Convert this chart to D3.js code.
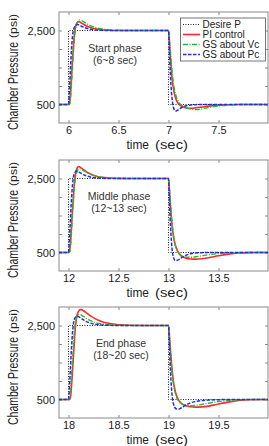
<!DOCTYPE html>
<html>
<head>
<meta charset="utf-8">
<script src="https://cdn.jsdelivr.net/npm/d3@7"></script>
<style>
  body { margin: 0; background: #fff; }
  svg { display: block; }
</style>
</head>
<body>
<script>
// phases (one panel each)
var phaseStart = [6, 12, 18];
var phaseName = ["Start phase", "Middle phase", "End phase"];
var phaseRange = ["(6~8 sec)", "(12~13 sec)", "(18~20 sec)"];
var xTicks = [[6, 6.5, 7, 7.5], [12, 12.5, 13, 13.5], [18, 18.5, 19, 19.5]];
var yTicks = [500, 1000, 1500, 2000, 2500];
var yTickLabels = {500: "500", 2500: "2,500"};
var seriesNames = ["Desire P", "PI control", "GS about Vc", "GS about Pc"];

// desired pressure (step), time relative to phase start
var desireT = [-0.1, 0, 1, 2.1];
var desireP = [500, 2500, 500, 500];

// sample times relative to phase start (sec)
var relT = [-0.1, 0, 0.01, 0.02, 0.03, 0.04, 0.05, 0.06, 0.07, 0.08, 0.09, 0.1, 0.11, 0.12, 0.13, 0.15, 0.18, 0.22, 0.27, 0.33, 0.4, 0.5, 0.6, 0.8,
            1.0, 1.01, 1.02, 1.03, 1.04, 1.05, 1.06, 1.07, 1.08, 1.1, 1.12, 1.15, 1.18, 1.22, 1.27, 1.33, 1.4, 1.5, 1.6, 1.7, 1.8, 2.0];

// start phase
var piStart = [500, 500, 520, 800, 1250, 1700, 2100, 2420, 2600, 2680, 2720, 2740, 2735, 2720, 2700, 2670, 2620, 2580, 2545, 2520, 2505, 2500, 2500, 2500,
               2500, 2150, 1750, 1400, 1120, 920, 780, 680, 610, 520, 470, 430, 405, 400, 410, 430, 455, 480, 495, 500, 500, 500];
var vcStart = [500, 500, 500, 650, 1050, 1500, 1950, 2300, 2550, 2660, 2720, 2760, 2780, 2780, 2770, 2740, 2690, 2630, 2580, 2545, 2520, 2505, 2500, 2500,
               2500, 2250, 1900, 1560, 1280, 1060, 900, 780, 690, 580, 500, 440, 400, 375, 365, 380, 420, 460, 485, 497, 500, 500];
var pcStart = [500, 500, 950, 1500, 2000, 2350, 2520, 2590, 2630, 2650, 2660, 2655, 2645, 2630, 2615, 2590, 2560, 2535, 2515, 2505, 2500, 2500, 2500, 2500,
               2500, 1850, 1250, 820, 560, 420, 350, 325, 330, 360, 400, 440, 465, 485, 495, 500, 500, 500, 500, 500, 500, 500];

// middle phase
var piMiddle = [500, 500, 520, 780, 1200, 1650, 2050, 2400, 2620, 2740, 2800, 2820, 2815, 2800, 2780, 2740, 2680, 2620, 2570, 2535, 2515, 2503, 2500, 2500,
                2500, 2150, 1750, 1400, 1130, 930, 790, 690, 610, 500, 430, 370, 340, 325, 320, 330, 360, 410, 455, 485, 497, 500];
var vcMiddle = [500, 500, 500, 650, 1050, 1500, 1930, 2280, 2520, 2650, 2720, 2750, 2760, 2755, 2745, 2715, 2670, 2610, 2565, 2535, 2515, 2503, 2500, 2500,
                2500, 2200, 1820, 1470, 1180, 960, 800, 680, 600, 490, 430, 385, 370, 370, 385, 410, 440, 470, 490, 498, 500, 500];
var pcMiddle = [500, 500, 900, 1450, 1950, 2330, 2550, 2640, 2685, 2700, 2695, 2680, 2665, 2650, 2635, 2605, 2570, 2540, 2520, 2508, 2502, 2500, 2500, 2500,
                2500, 1800, 1200, 780, 500, 360, 300, 280, 285, 300, 340, 390, 430, 465, 485, 495, 500, 500, 500, 500, 500, 500];

// end phase
var piEnd = [500, 500, 500, 560, 850, 1250, 1700, 2130, 2480, 2700, 2820, 2880, 2915, 2930, 2930, 2900, 2840, 2760, 2680, 2610, 2560, 2520, 2505, 2500,
             2500, 2200, 1820, 1480, 1200, 980, 820, 700, 610, 490, 420, 360, 325, 305, 295, 300, 320, 380, 430, 475, 495, 500];
var vcEnd = [500, 500, 500, 700, 1100, 1550, 1980, 2330, 2580, 2710, 2770, 2795, 2800, 2795, 2780, 2745, 2690, 2630, 2580, 2545, 2520, 2505, 2500, 2500,
             2500, 2150, 1750, 1400, 1120, 910, 760, 650, 570, 460, 400, 355, 335, 330, 340, 365, 400, 445, 475, 492, 499, 500];
var pcEnd = [500, 500, 850, 1400, 1900, 2300, 2560, 2680, 2730, 2750, 2750, 2740, 2725, 2705, 2685, 2650, 2605, 2565, 2535, 2515, 2505, 2500, 2500, 2500,
             2500, 1850, 1250, 800, 520, 380, 300, 260, 245, 240, 260, 310, 360, 410, 445, 470, 485, 495, 500, 500, 500, 500];

var responses = [
    [piStart, vcStart, pcStart],
    [piMiddle, vcMiddle, pcMiddle],
    [piEnd, vcEnd, pcEnd]
];

var width = 269, height = 446;
var panelTop = [12, 160, 307];
var panelH = 111;
var plotLeft = 59, plotRight = 268;
var labelX = [115, 119, 121];

var styles = [
    {color: "#222", width: 1, dash: "1,1.5"},
    {color: "#ff2a2a", width: 1.6, dash: null},
    {color: "#1fbf2a", width: 1.4, dash: "5,1.5,1,1.5"},
    {color: "#2430e0", width: 1.5, dash: "3.5,1.5"}
];

var svg = d3.select("body").append("svg")
    .attr("width", width)
    .attr("height", height)
    .style("font-family", "'Liberation Sans', Arial, sans-serif");

phaseStart.forEach(function (t0, p) {
    var top = panelTop[p], bottom = top + panelH;

    var x = d3.scaleLinear()
        .domain([t0 - 0.095, t0 + 1.995])
        .range([plotLeft, plotRight]);
    var y = d3.scaleLinear()
        .domain([0, 3000])
        .range([bottom, top]);

    var g = svg.append("g").attr("class", "panel");

    g.append("clipPath").attr("id", "clip" + p)
        .append("rect")
        .attr("x", plotLeft).attr("y", top)
        .attr("width", plotRight - plotLeft).attr("height", panelH);

    g.append("rect")
        .attr("x", plotLeft).attr("y", top)
        .attr("width", plotRight - plotLeft).attr("height", panelH)
        .attr("fill", "#fff");

    // axes, ticks pointing inward
    var xb = g.append("g").attr("transform", "translate(0," + bottom + ")")
        .call(d3.axisBottom(x).tickValues(xTicks[p]).tickSizeInner(-3).tickSizeOuter(0).tickPadding(3.5)
            .tickFormat(d3.format("")));
    var xt = g.append("g").attr("transform", "translate(0," + top + ")")
        .call(d3.axisTop(x).tickValues(xTicks[p]).tickSizeInner(-3).tickSizeOuter(0).tickFormat(""));
    var yl = g.append("g").attr("transform", "translate(" + plotLeft + ",0)")
        .call(d3.axisLeft(y).tickValues(yTicks).tickSizeInner(-3).tickSizeOuter(0).tickPadding(4)
            .tickFormat(function (d) { return yTickLabels[d] || ""; }));
    var yr = g.append("g").attr("transform", "translate(" + plotRight + ",0)")
        .call(d3.axisRight(y).tickValues(yTicks).tickSizeInner(-3).tickSizeOuter(0).tickFormat(""));

    [xb, xt, yl, yr].forEach(function (a) {
        a.select(".domain").remove();
        a.selectAll(".tick line").attr("stroke", "#888");
        a.selectAll("text").attr("font-size", 11).attr("fill", "#222")
            .attr("font-family", "'Liberation Sans', Arial, sans-serif");
    });

    g.append("rect")
        .attr("x", plotLeft).attr("y", top)
        .attr("width", plotRight - plotLeft).attr("height", panelH)
        .attr("fill", "none").attr("stroke", "#8a8a8a").attr("stroke-width", 1);

    // curves
    var lines = g.append("g").attr("clip-path", "url(#clip" + p + ")");

    var stepLine = d3.line()
        .x(function (d) { return x(t0 + d[0]); })
        .y(function (d) { return y(d[1]); })
        .curve(d3.curveStepAfter);
    lines.append("path")
        .datum(desireT.map(function (t, i) { return [t, desireP[i]]; }))
        .attr("d", stepLine)
        .attr("fill", "none")
        .attr("stroke", styles[0].color)
        .attr("stroke-width", styles[0].width)
        .attr("stroke-dasharray", styles[0].dash);

    var curve = d3.line()
        .x(function (d) { return x(t0 + d[0]); })
        .y(function (d) { return y(d[1]); })
        .curve(d3.curveMonotoneX);

    responses[p].forEach(function (vals, s) {
        var st = styles[s + 1];
        lines.append("path")
            .datum(relT.map(function (t, i) { return [t, vals[i]]; }))
            .attr("d", curve)
            .attr("fill", "none")
            .attr("stroke", st.color)
            .attr("stroke-width", st.width)
            .attr("stroke-dasharray", st.dash);
    });

    // phase label
    g.append("text")
        .attr("x", labelX[p]).attr("y", top + 39.5)
        .attr("text-anchor", "middle")
        .attr("font-size", 10.5).attr("fill", "#333")
        .text(phaseName[p]);
    g.append("text")
        .attr("x", labelX[p]).attr("y", top + 51.5)
        .attr("text-anchor", "middle")
        .attr("font-size", 10.5).attr("fill", "#333")
        .text(phaseRange[p]);

    // axis titles
    g.append("text")
        .attr("x", 126.5).attr("y", bottom + 25.5)
        .attr("font-family", "'Liberation Sans Narrow', 'Liberation Sans', sans-serif")
        .attr("font-size", 12).attr("fill", "#222")
        .attr("textLength", 22.5).attr("lengthAdjust", "spacingAndGlyphs")
        .text("time");
    g.append("text")
        .attr("x", 155).attr("y", bottom + 25.5)
        .attr("font-family", "'Liberation Sans Narrow', 'Liberation Sans', sans-serif")
        .attr("font-size", 12).attr("fill", "#222")
        .attr("textLength", 33).attr("lengthAdjust", "spacingAndGlyphs")
        .text("(sec)");

    g.append("text")
        .attr("transform", "translate(18," + (bottom + 7) + ") rotate(-90)")
        .attr("font-family", "'Liberation Sans Narrow', 'Liberation Sans', sans-serif")
        .attr("font-size", 14).attr("fill", "#222")
        .attr("textLength", 88).attr("lengthAdjust", "spacingAndGlyphs")
        .text("Chamber Pressure");
    g.append("text")
        .attr("transform", "translate(17," + (bottom + 7 - 92) + ") rotate(-90)")
        .attr("font-family", "'Liberation Sans Narrow', 'Liberation Sans', sans-serif")
        .attr("font-size", 10.5).attr("fill", "#222")
        .attr("textLength", 24).attr("lengthAdjust", "spacingAndGlyphs")
        .text("(psi)");

    // legend only in first panel
    if (p === 0) {
        var lg = g.append("g").attr("class", "legend");
        lg.append("rect")
            .attr("x", 180.5).attr("y", top + 6)
            .attr("width", 85).attr("height", 43)
            .attr("fill", "#fff").attr("stroke", "#555").attr("stroke-width", 0.8);
        seriesNames.forEach(function (name, s) {
            var yy = top + 12.5 + s * 10;
            lg.append("line")
                .attr("x1", 183).attr("x2", 200)
                .attr("y1", yy).attr("y2", yy)
                .attr("stroke", styles[s].color)
                .attr("stroke-width", styles[s].width)
                .attr("stroke-dasharray", styles[s].dash);
            lg.append("text")
                .attr("x", 202.5).attr("y", yy + 3.5)
                .attr("font-size", 10).attr("fill", "#222")
                .text(name);
        });
    }
});
</script>
</body>
</html>
